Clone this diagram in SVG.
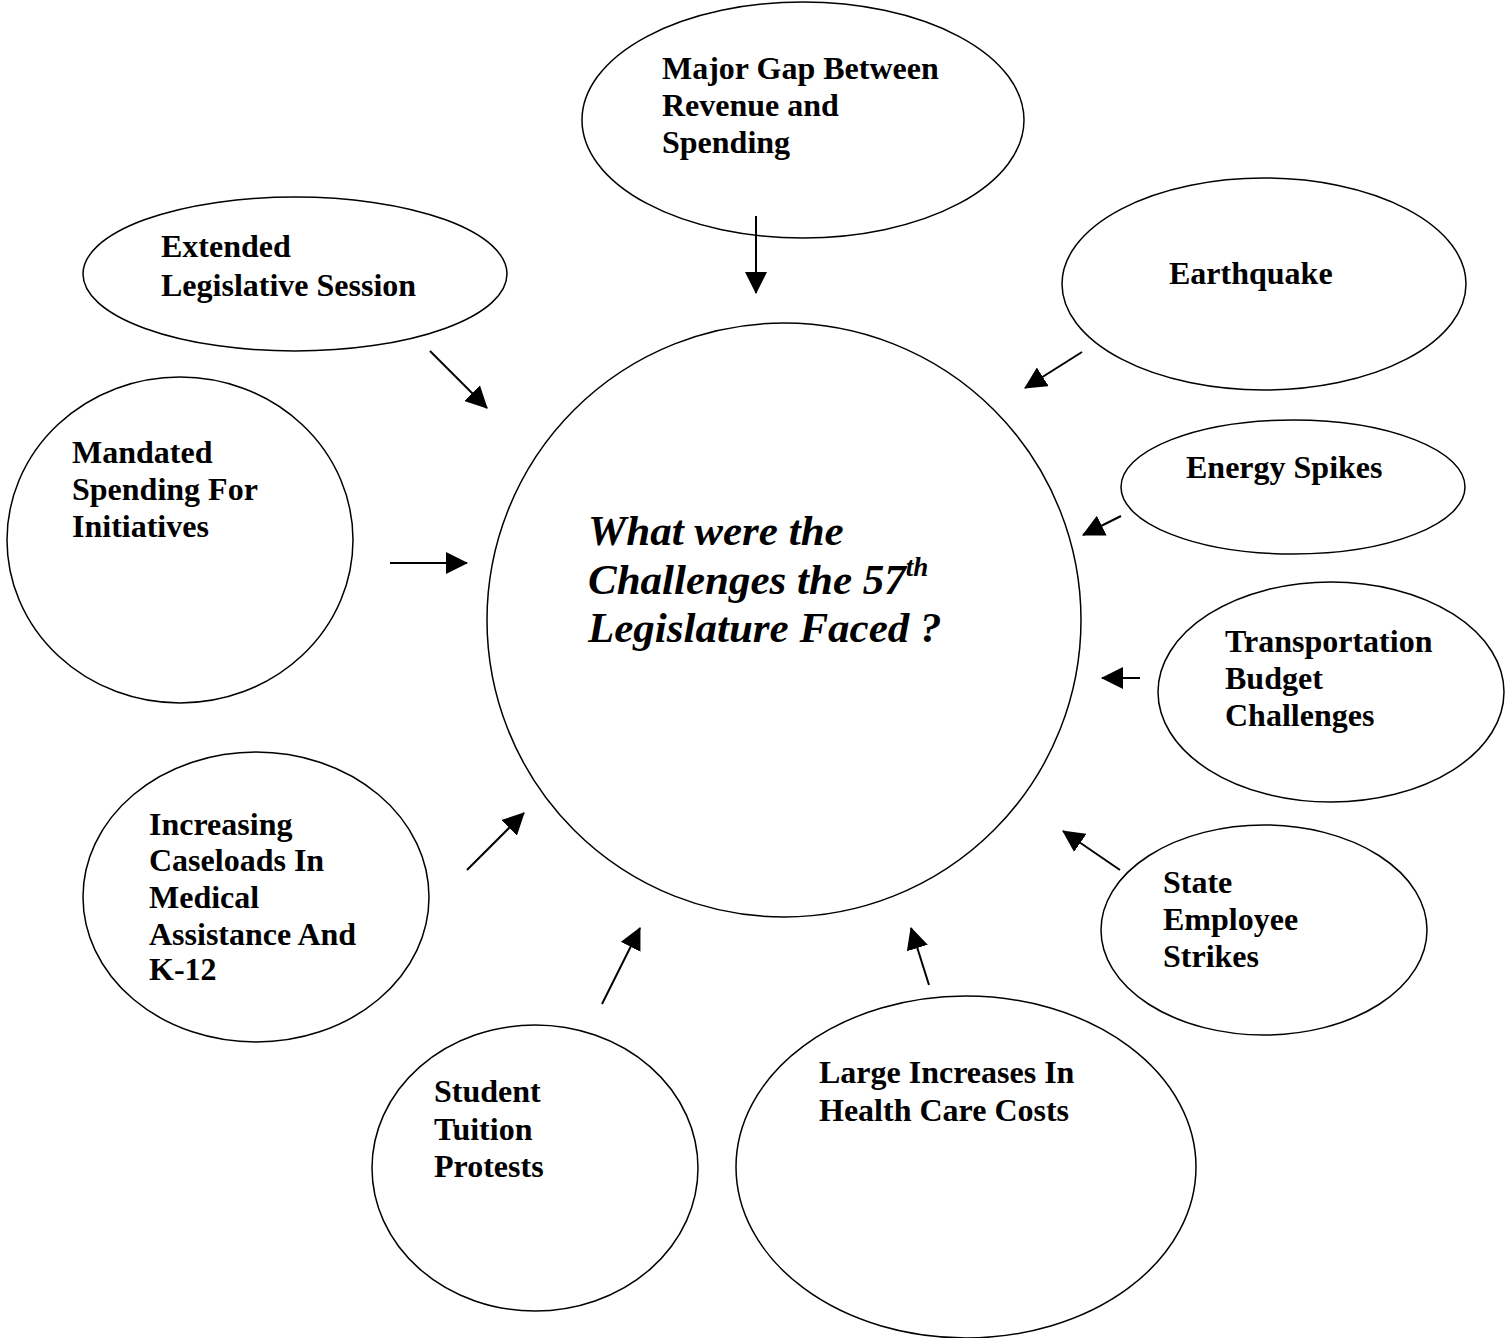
<svg xmlns="http://www.w3.org/2000/svg" width="1512" height="1338" viewBox="0 0 1512 1338">
<style>
.n{fill:#fff;stroke:#000;stroke-width:1.5}
.t{font-family:"Liberation Serif","Times New Roman",serif;font-weight:bold;font-size:32px;fill:#000}
.c{font-family:"Liberation Serif","Times New Roman",serif;font-weight:bold;font-style:italic;font-size:43px;fill:#000}
.a{stroke:#000;stroke-width:2;fill:none;marker-end:url(#ah)}
</style>
<defs>
<marker id="ah" markerUnits="userSpaceOnUse" markerWidth="22" markerHeight="22" viewBox="0 0 22 22" refX="21" refY="11" orient="auto">
<path d="M0,0 L22,11 L0,22 Z" fill="#000"/>
</marker>
</defs>
<rect width="1512" height="1338" fill="#fff"/>
<g id="center"><circle class="n" cx="784" cy="620" r="297"/>
<text class="c" x="588" y="545">What were the</text>
<text class="c" x="588" y="594">Challenges the 57<tspan font-size="27" dy="-18">th</tspan></text>
<text class="c" x="588" y="642">Legislature Faced ?</text></g>
<g id="major-gap"><ellipse class="n" cx="803" cy="120" rx="221" ry="118"/>
<text class="t" x="662" y="79">Major Gap Between</text>
<text class="t" x="662" y="116">Revenue and</text>
<text class="t" x="662" y="153">Spending</text></g>
<g id="extended"><ellipse class="n" cx="295" cy="274" rx="212" ry="77"/>
<text class="t" x="161" y="257">Extended</text>
<text class="t" x="161" y="296">Legislative Session</text></g>
<g id="earthquake"><ellipse class="n" cx="1264" cy="284" rx="202" ry="106"/>
<text class="t" x="1169" y="284">Earthquake</text></g>
<g id="mandated"><ellipse class="n" cx="180" cy="540" rx="173" ry="163"/>
<text class="t" x="72" y="463">Mandated</text>
<text class="t" x="72" y="500">Spending For</text>
<text class="t" x="72" y="537">Initiatives</text></g>
<g id="energy"><ellipse class="n" cx="1293" cy="487" rx="172" ry="67"/>
<text class="t" x="1186" y="478">Energy Spikes</text></g>
<g id="transportation"><ellipse class="n" cx="1331" cy="692" rx="173" ry="110"/>
<text class="t" x="1225" y="652">Transportation</text>
<text class="t" x="1225" y="689">Budget</text>
<text class="t" x="1225" y="726">Challenges</text></g>
<g id="caseloads"><ellipse class="n" cx="256" cy="897" rx="173" ry="145"/>
<text class="t" x="149" y="835">Increasing</text>
<text class="t" x="149" y="871">Caseloads In</text>
<text class="t" x="149" y="908">Medical</text>
<text class="t" x="149" y="945">Assistance And</text>
<text class="t" x="149" y="980">K-12</text></g>
<g id="strikes"><ellipse class="n" cx="1264" cy="930" rx="163" ry="105"/>
<text class="t" x="1163" y="893">State</text>
<text class="t" x="1163" y="930">Employee</text>
<text class="t" x="1163" y="967">Strikes</text></g>
<g id="tuition"><ellipse class="n" cx="535" cy="1168" rx="163" ry="143"/>
<text class="t" x="434" y="1102">Student</text>
<text class="t" x="434" y="1140">Tuition</text>
<text class="t" x="434" y="1177">Protests</text></g>
<g id="health"><ellipse class="n" cx="966" cy="1167" rx="230" ry="171"/>
<text class="t" x="819" y="1083">Large Increases In</text>
<text class="t" x="819" y="1121">Health Care Costs</text></g>
<g id="connectors">
<line class="a" x1="756" y1="216" x2="756" y2="293"/>
<line class="a" x1="430" y1="351" x2="487" y2="408"/>
<line class="a" x1="1082" y1="352" x2="1025" y2="388"/>
<line class="a" x1="390" y1="563" x2="467" y2="563"/>
<line class="a" x1="1121" y1="516" x2="1083" y2="535"/>
<line class="a" x1="1140" y1="678" x2="1102" y2="678"/>
<line class="a" x1="467" y1="870" x2="524" y2="813"/>
<line class="a" x1="602" y1="1004" x2="640" y2="928"/>
<line class="a" x1="929" y1="985" x2="911" y2="928"/>
<line class="a" x1="1120" y1="870" x2="1063" y2="831"/>
</g>
</svg>
